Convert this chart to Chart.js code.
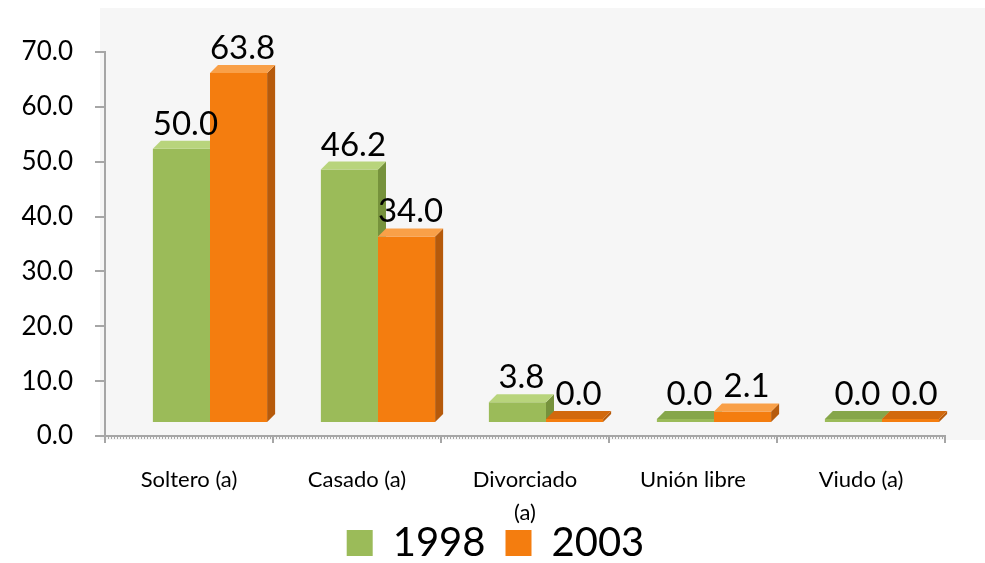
<!DOCTYPE html>
<html lang="es">
<head>
<meta charset="UTF-8">
<title>Estado civil 1998 - 2003</title>
<script src="https://cdn.jsdelivr.net/npm/chart.js@4"></script>
<style>
  html, body { margin: 0; padding: 0; background: #fff; }
  #wrap { width: 985px; height: 563px; }
</style>
</head>
<body>
<div id="wrap"><canvas id="chart"></canvas></div>
<script>
// data
const categories = ['Soltero (a)', 'Casado (a)', ['Divorciado', '(a)'], 'Unión libre', 'Viudo (a)'];
const years = ['1998', '2003'];
const values1998 = [50.0, 46.2, 3.8, 0.0, 0.0];
const values2003 = [63.8, 34.0, 0.0, 2.1, 0.0];
const yTicks = [0, 10, 20, 30, 40, 50, 60, 70];

const FONT = 'Lato, "Open Sans", sans-serif';
const depth = 8;                 // fake 3d depth of the columns
const shift = { x: 21, y: -13 }; // columns sit on the back floor
const faces = [
  { front: '#9bbb59', top: '#b8d47c', side: '#76923c', flat: '#86a64a' },
  { front: '#f47d0f', top: '#f9a048', side: '#b65a0b', flat: '#d2690d' }
];

const bars3d = {
  id: 'bars3d',
  beforeDraw(chart) {
    const { ctx, chartArea: a, width } = chart;
    ctx.save();
    ctx.fillStyle = '#f6f6f6';
    ctx.fillRect(a.left - 5, a.top - 44, width - a.left + 5, a.bottom - a.top + 48);
    ctx.restore();
  },
  afterLayout(chart) {
    // legend sits a little over the bottom of the category labels
    const lg = chart.legend;
    lg.top -= 26;
    lg.left += 3;
    lg.right += 3;
  },
  beforeDatasetsDraw(chart) {
    chart.ctx.save();
    chart.ctx.translate(shift.x, shift.y);
  },
  afterDatasetsDraw(chart) {
    const ctx = chart.ctx;
    const metas = chart.data.datasets.map((d, i) => chart.getDatasetMeta(i));
    const props = el => el.getProps(['x', 'y', 'base', 'width'], true);

    categories.forEach((c, j) => {
      metas.forEach((meta, i) => {
        const b = props(meta.data[j]);
        const l = b.x - b.width / 2, r = b.x + b.width / 2;
        const flat = chart.data.datasets[i].data[j] === 0;
        ctx.save();
        if (i < metas.length - 1) {
          // keep this bar's faces behind the next bar's front
          const n = props(metas[i + 1].data[j]);
          ctx.beginPath();
          ctx.rect(-2000, -2000, 5000, 5000);
          ctx.rect(n.x - n.width / 2, n.y, n.width, n.base - n.y);
          ctx.clip('evenodd');
        }
        ctx.fillStyle = faces[i].side;
        ctx.beginPath();
        ctx.moveTo(r, b.y);
        ctx.lineTo(r + depth, b.y - depth);
        ctx.lineTo(r + depth, b.base - depth);
        ctx.lineTo(r, b.base);
        ctx.closePath();
        ctx.fill();
        ctx.fillStyle = flat ? faces[i].flat : faces[i].top;
        ctx.beginPath();
        ctx.moveTo(l, b.y);
        ctx.lineTo(l + depth, b.y - depth);
        ctx.lineTo(r + depth, b.y - depth);
        ctx.lineTo(r, b.y);
        ctx.closePath();
        ctx.fill();
        ctx.restore();
      });
    });

    // value labels
    ctx.font = '33px ' + FONT;
    ctx.fillStyle = '#000';
    ctx.textAlign = 'center';
    ctx.textBaseline = 'alphabetic';
    metas.forEach((meta, i) => {
      const vals = chart.data.datasets[i].data;
      meta.data.forEach((el, j) => {
        const b = props(el);
        ctx.fillText(vals[j].toFixed(1), b.x + depth / 2, b.y - depth - 6);
      });
    });
    ctx.restore();
  },
  afterDraw(chart) {
    // fine minor ticks along the category axis
    const { ctx, chartArea: a } = chart;
    ctx.save();
    ctx.strokeStyle = '#a6a6a6';
    ctx.lineWidth = 2;
    ctx.setLineDash([1, 2]);
    ctx.beginPath();
    ctx.moveTo(a.left, a.bottom + 2);
    ctx.lineTo(a.right, a.bottom + 2);
    ctx.stroke();
    ctx.restore();
  }
};

new Chart(document.getElementById('chart'), {
  type: 'bar',
  data: {
    labels: categories,
    datasets: [{
      label: years[0],
      data: values1998,
      backgroundColor: faces[0].front,
      borderWidth: 0
    }, {
      label: years[1],
      data: values2003,
      backgroundColor: faces[1].front,
      borderWidth: 0
    }]
  },
  options: {
    responsive: true,
    maintainAspectRatio: false,
    animation: false,
    layout: { padding: { top: 52, left: 0, right: 0, bottom: 0 } },
    datasets: { bar: { categoryPercentage: 0.68, barPercentage: 1.0, minBarLength: 4 } },
    scales: {
      x: {
        grid: { offset: true, drawOnChartArea: false, tickLength: 7, color: '#a6a6a6', lineWidth: 2 },
        border: { color: '#a6a6a6', width: 2 },
        ticks: { font: { family: FONT, size: 22, lineHeight: 1.5 }, color: '#000', padding: 20, maxRotation: 0 },
        afterFit: s => { s.height = 93; }
      },
      y: {
        min: 0,
        max: 70,
        grid: { drawOnChartArea: false, tickLength: 10, color: '#a6a6a6', lineWidth: 2 },
        border: { color: '#a6a6a6', width: 2 },
        ticks: { font: { family: FONT, size: 26 }, color: '#000', padding: 22, callback: v => v.toFixed(1) },
        afterBuildTicks: axis => { axis.ticks = yTicks.map(v => ({ value: v })); },
        afterFit: s => { s.width = 105; }
      },
      yRight: {
        position: 'right',
        display: true,
        grid: { display: false },
        border: { display: false },
        ticks: { display: false },
        afterFit: s => { s.width = 40; }
      }
    },
    plugins: {
      legend: {
        position: 'bottom',
        maxHeight: 34,
        labels: {
          font: { family: FONT, size: 40 },
          color: '#000',
          boxWidth: 26,
          boxHeight: 26,
          padding: 20
        }
      },
      tooltip: { enabled: false }
    }
  },
  plugins: [bars3d]
});
</script>
</body>
</html>
